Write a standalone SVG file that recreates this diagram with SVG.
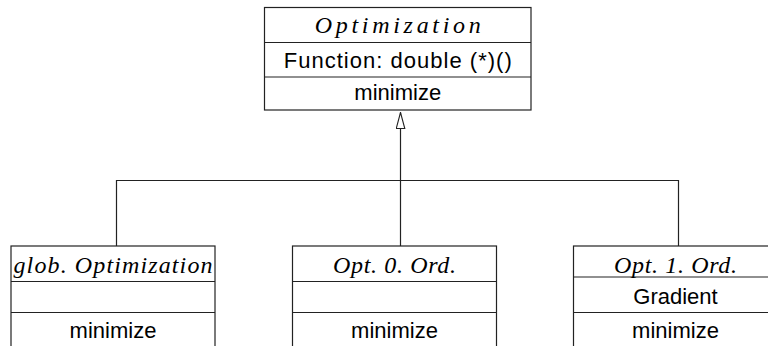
<svg xmlns="http://www.w3.org/2000/svg" width="768" height="346" viewBox="0 0 768 346">
  <defs>
    <style>
      .box { fill: #fff; stroke: #222; stroke-width: 1.2; }
      .sep { stroke: #222; stroke-width: 1.2; }
      .conn { fill: none; stroke: #222; stroke-width: 1.2; }
      .title { font-family: "Liberation Serif", "DejaVu Serif", serif; font-style: italic; font-size: 24px; text-anchor: middle; fill: #000; }
      .member { font-family: "Liberation Sans", "DejaVu Sans", sans-serif; font-size: 22px; text-anchor: middle; fill: #000; }
    </style>
    <!-- hollow triangle for the generalization arrow -->
    <marker id="inherit" markerUnits="userSpaceOnUse" viewBox="0 0 18 10" refX="17" refY="5" markerWidth="18" markerHeight="10" orient="auto">
      <path d="M1,0.7 L17,5 L1,9.3 Z" fill="#fff" stroke="#222" stroke-width="1.1"/>
    </marker>
  </defs>
  <rect width="768" height="346" fill="#fff"/>

  <!-- inheritance connectors -->
  <g id="connectors">
    <path class="conn" d="M116.5,246 V180.5 H678.5 V246"/>
    <path class="conn" d="M400.5,246 V112.5" marker-end="url(#inherit)"/>
  </g>

  <!-- base class -->
  <g id="optimization">
    <rect class="box" x="264.5" y="7.5" width="266.5" height="102.5"/>
    <line class="sep" x1="264.5" y1="42.5" x2="531" y2="42.5"/>
    <line class="sep" x1="264.5" y1="77" x2="531" y2="77"/>
    <text class="title" x="397.75" y="33" textLength="166">Optimization</text>
    <text class="member" x="397.75" y="68" textLength="228">Function: double (*)()</text>
    <text class="member" x="397.75" y="100">minimize</text>
  </g>

  <g id="glob-optimization">
    <rect class="box" x="11" y="246" width="204" height="110"/>
    <line class="sep" x1="11" y1="281.5" x2="215" y2="281.5"/>
    <line class="sep" x1="11" y1="312.5" x2="215" y2="312.5"/>
    <text class="title" x="113" y="273" textLength="199">glob. Optimization</text>
    <text class="member" x="113" y="338">minimize</text>
  </g>

  <g id="opt-0-ord">
    <rect class="box" x="292.5" y="246" width="204" height="110"/>
    <line class="sep" x1="292.5" y1="281.5" x2="496.5" y2="281.5"/>
    <line class="sep" x1="292.5" y1="312.5" x2="496.5" y2="312.5"/>
    <text class="title" x="394.5" y="273" textLength="123">Opt. 0. Ord.</text>
    <text class="member" x="394.5" y="338">minimize</text>
  </g>

  <g id="opt-1-ord">
    <rect class="box" x="573.5" y="246" width="204" height="110"/>
    <line class="sep" x1="573.5" y1="277" x2="777.5" y2="277"/>
    <line class="sep" x1="573.5" y1="312.5" x2="777.5" y2="312.5"/>
    <text class="title" x="675.5" y="273" textLength="123">Opt. 1. Ord.</text>
    <text class="member" x="675.5" y="304">Gradient</text>
    <text class="member" x="675.5" y="338">minimize</text>
  </g>
</svg>
